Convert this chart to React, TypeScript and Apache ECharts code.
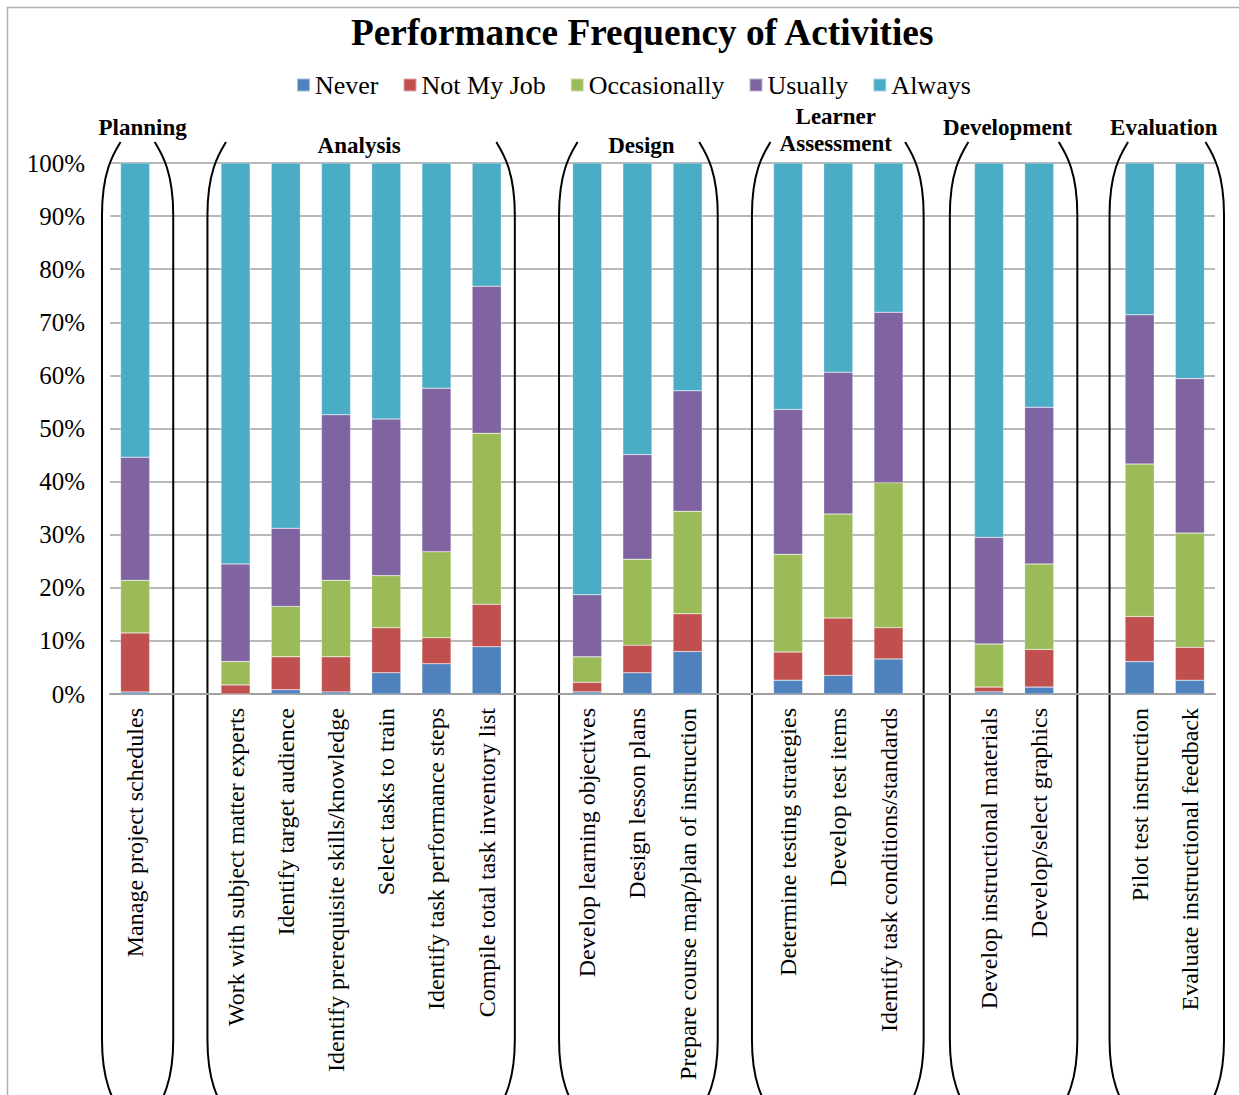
import React, { useEffect, useRef } from "react";
import * as echarts from "echarts";

const categories = [
  "Manage project schedules",
  "",
  "Work with subject matter experts",
  "Identify target audience",
  "Identify prerequisite skills/knowledge",
  "Select tasks to train",
  "Identify task performance steps",
  "Compile total task inventory list",
  "",
  "Develop learning objectives",
  "Design lesson plans",
  "Prepare course map/plan of instruction",
  "",
  "Determine testing strategies",
  "Develop test items",
  "Identify task conditions/standards",
  "",
  "Develop instructional materials",
  "Develop/select graphics",
  "",
  "Pilot test instruction",
  "Evaluate instructional feedback",
];

const seriesNames = ["Never", "Not My Job", "Occasionally", "Usually", "Always"];

const never = [0.4, null, 0, 0.8, 0.4, 4.0, 5.7, 8.9, null, 0.4, 4.0, 8.0, null, 2.6, 3.5, 6.6, null, 0.4, 1.3, null, 6.1, 2.6];
const notMyJob = [11.1, null, 1.7, 6.2, 6.6, 8.5, 4.9, 8.0, null, 1.8, 5.2, 7.1, null, 5.3, 10.8, 5.9, null, 0.9, 7.1, null, 8.5, 6.2];
const occasionally = [9.9, null, 4.4, 9.5, 14.4, 9.8, 16.2, 32.2, null, 4.8, 16.2, 19.3, null, 18.4, 19.6, 27.3, null, 8.1, 16.1, null, 28.7, 21.5];
const usually = [23.2, null, 18.4, 14.7, 31.2, 29.5, 30.8, 27.7, null, 11.7, 19.7, 22.7, null, 27.3, 26.7, 32.1, null, 20.1, 29.5, null, 28.1, 29.1];
const always = [55.4, null, 75.5, 68.8, 47.4, 48.2, 42.4, 23.2, null, 81.3, 54.9, 42.9, null, 46.4, 39.4, 28.1, null, 70.5, 46.0, null, 28.6, 40.6];

const groupNames = ["Planning", "Analysis", "Design", "Learner\nAssessment", "Development", "Evaluation"];
const groupFirst = [0, 2, 9, 13, 17, 20];
const groupLast = [0, 7, 11, 15, 18, 21];

// layout (pixels) for the bracket outlines and group headings
const bracketLayout = [
  { padL: 8, padR: 13, labelDx: 5, labelY: 127 },
  { padL: 3, padR: 3, labelDx: -2, labelY: 145 },
  { padL: 3, padR: 5, labelDx: 3, labelY: 145 },
  { padL: 11, padR: 10, labelDx: -2, labelY: 130 },
  { padL: 14, padR: 13, labelDx: -6, labelY: 127 },
  { padL: 5, padR: 9, labelDx: -3, labelY: 127 },
];

const colors = ["#4F81BD", "#C0504D", "#9BBB59", "#8064A2", "#4BACC6"];
const FONT = '"Liberation Serif", "Times New Roman", serif';

function bracketSide(xv: number, dir: number) {
  // dir = +1 for left side (curves toward the right at the ends), -1 for right side
  const stroke = { stroke: "#000", lineWidth: 2, fill: "none" };
  const xt = xv + dir * 18.5;
  return [
    {
      type: "bezierCurve",
      silent: true,
      shape: { x1: xt, y1: 142, cpx1: xt - dir * 6, cpy1: 152, cpx2: xv, cpy2: 170, x2: xv, y2: 215 },
      style: stroke,
    },
    {
      type: "line",
      silent: true,
      shape: { x1: xv, y1: 215, x2: xv, y2: 1040 },
      style: stroke,
    },
    {
      type: "bezierCurve",
      silent: true,
      shape: { x1: xv, y1: 1040, cpx1: xv, cpy1: 1085, cpx2: xv + dir * 13, cpy2: 1103, x2: xv + dir * 19, y2: 1113 },
      style: stroke,
    },
  ];
}

export default function App() {
  const ref = useRef<HTMLDivElement>(null);

  useEffect(() => {
    document.body.style.margin = "0";
    if (!ref.current) return;
    const chart = echarts.init(ref.current, null, { renderer: "svg" });
    const data = [never, notMyJob, occasionally, usually, always];

    chart.setOption({
      animation: false,
      color: colors,
      title: {
        text: "Performance Frequency of Activities",
        left: 346,
        top: 9,
        textStyle: { fontFamily: FONT, fontSize: 37.3, fontWeight: "bold", color: "#000" },
      },
      legend: {
        data: seriesNames,
        left: 291,
        top: 67,
        icon: "rect",
        itemWidth: 13,
        itemHeight: 13,
        itemGap: 24,
        textStyle: { fontFamily: FONT, fontSize: 26, color: "#000" },
      },
      grid: { left: 110, right: 24, top: 163, bottom: 401, containLabel: false },
      xAxis: {
        type: "category",
        data: categories,
        axisTick: { show: false },
        axisLine: { lineStyle: { color: "#a0a0a0", width: 2 } },
        axisLabel: {
          interval: 0,
          rotate: 90,
          margin: 14,
          fontFamily: FONT,
          fontSize: 24,
          color: "#000",
        },
        splitLine: { show: false },
      },
      yAxis: {
        type: "value",
        min: 0,
        max: 100,
        interval: 10,
        axisLine: { show: false },
        axisTick: { show: false },
        axisLabel: {
          formatter: "{value}%",
          margin: 25,
          fontFamily: FONT,
          fontSize: 25,
          color: "#000",
        },
        splitLine: { lineStyle: { color: "#a0a0a0", width: 1.5 } },
      },
      series: seriesNames.map((name, i) => ({
        name,
        type: "bar",
        stack: "total",
        barWidth: "58%",
        data: data[i],
        itemStyle: { color: colors[i], borderColor: "rgba(255,255,255,0.5)", borderWidth: 0.5 },
      })),
    });

    const c0 = chart.convertToPixel({ xAxisIndex: 0 }, 0) as number;
    const c1 = chart.convertToPixel({ xAxisIndex: 0 }, 1) as number;
    const half = (c1 - c0) / 2;

    const graphics: any[] = [
      {
        type: "rect",
        silent: true,
        shape: { x: 7.5, y: 7.5, width: 1300, height: 1200 },
        style: { fill: "none", stroke: "#b0b0b0", lineWidth: 1.5 },
      },
    ];

    groupNames.forEach((name, g) => {
      const lay = bracketLayout[g];
      const xl = (chart.convertToPixel({ xAxisIndex: 0 }, groupFirst[g]) as number) - half - lay.padL;
      const xr = (chart.convertToPixel({ xAxisIndex: 0 }, groupLast[g]) as number) + half + lay.padR;
      graphics.push(...bracketSide(xl, 1), ...bracketSide(xr, -1));
      graphics.push({
        type: "text",
        silent: true,
        x: (xl + xr) / 2 + lay.labelDx,
        y: lay.labelY,
        style: {
          text: name,
          fontFamily: FONT,
          fontSize: 23,
          fontWeight: "bold",
          fill: "#000",
          align: "center",
          verticalAlign: "middle",
          lineHeight: 27,
        },
      });
    });

    chart.setOption({ graphic: graphics });

    return () => chart.dispose();
  }, []);

  return <div ref={ref} style={{ width: 1239, height: 1095 }} />;
}
